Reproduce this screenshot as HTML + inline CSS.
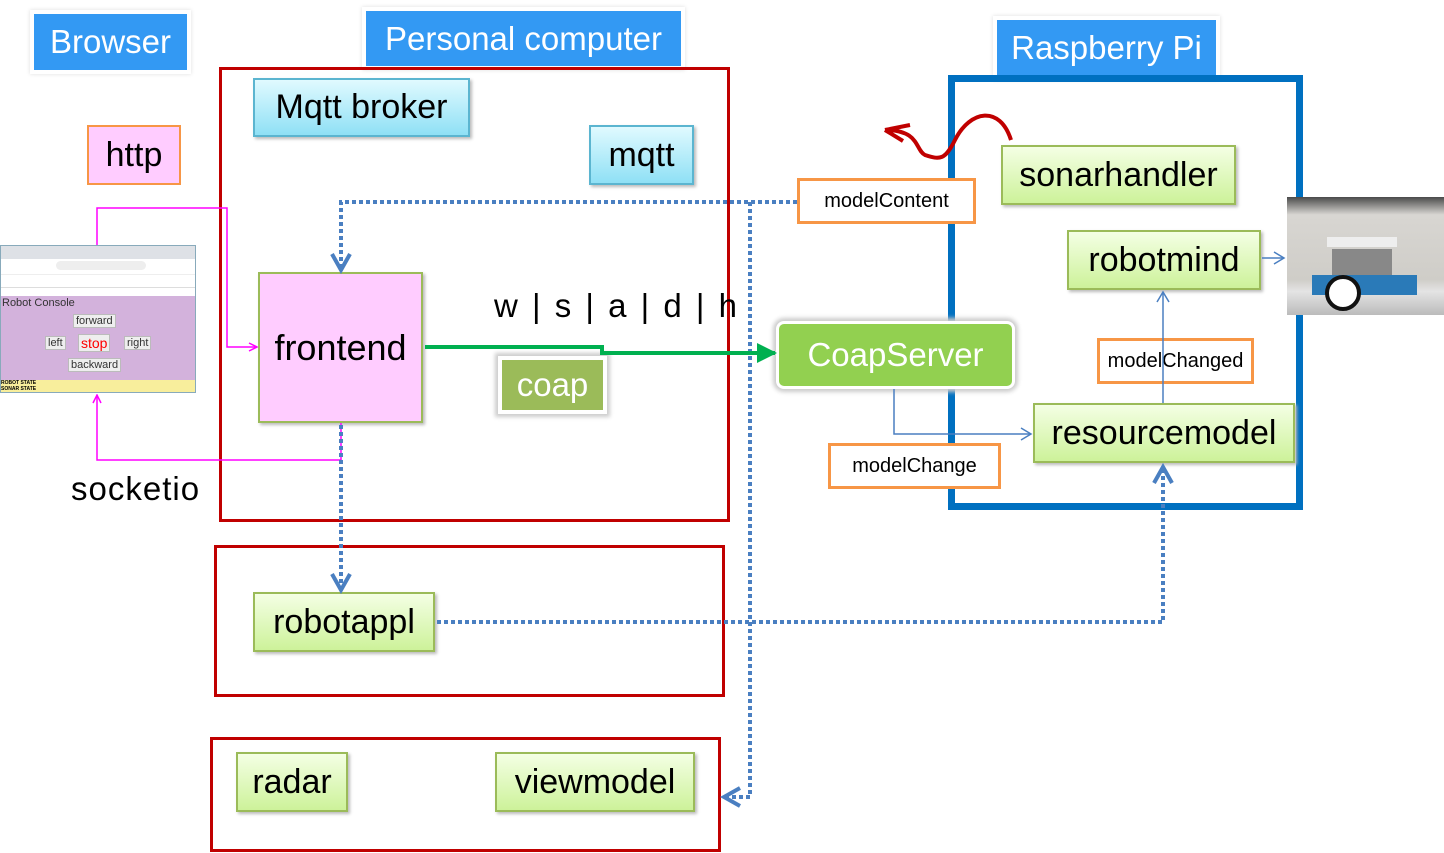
<!DOCTYPE html>
<html><head><meta charset="utf-8"><style>
body{margin:0;width:1444px;height:853px;background:#fff;position:relative;overflow:hidden;font-family:"Liberation Sans","DejaVu Sans",sans-serif}
.b{position:absolute;box-sizing:border-box;display:flex;align-items:center;justify-content:center;white-space:nowrap}
.lbl{background:#3399f3;color:#fff;font-size:33px;outline:4px solid #fff;box-shadow:0 0 4px 4px #ddd}
.g{background:linear-gradient(#f4ffe4,#cdf29a);border:2px solid #9bbb59;font-size:34px;color:#000;box-shadow:2px 2px 3px #bbb}
.c{background:linear-gradient(#e0faff,#8fe0f5);border:2px solid #5bb5d0;font-size:34px;box-shadow:2px 2px 3px #bbb}
.o{background:#fff;border:3px solid #f79646;font-size:20px}
.r{position:absolute;box-sizing:border-box;border:3px solid #c00000}
</style></head><body>
<div class="b lbl" style="left:34px;top:14px;width:153px;height:56px">Browser</div>
<div class="b lbl" style="left:366px;top:11px;width:315px;height:55px">Personal computer</div>
<div class="b lbl" style="left:997px;top:20px;width:219px;height:56px">Raspberry Pi</div>
<div class="r" style="left:219px;top:67px;width:511px;height:455px"></div>
<div class="r" style="left:214px;top:545px;width:511px;height:152px"></div>
<div class="r" style="left:210px;top:737px;width:511px;height:115px"></div>
<div style="position:absolute;left:948px;top:75px;width:355px;height:435px;box-sizing:border-box;border:7px solid #0070c0"></div>
<div class="b c" style="left:253px;top:78px;width:217px;height:59px">Mqtt broker</div>
<div class="b c" style="left:589px;top:125px;width:105px;height:60px">mqtt</div>
<div class="b" style="left:87px;top:125px;width:94px;height:60px;background:#ffccff;border:2px solid #f79646;font-size:34px">http</div>
<div class="b" style="left:258px;top:272px;width:165px;height:151px;background:#ffccff;border:2px solid #9bbb59;font-size:36px;box-shadow:2px 2px 3px #bbb">frontend</div>
<div class="b" style="left:498px;top:356px;width:109px;height:58px;background:#9bbb59;color:#fff;font-size:33px;border:4px solid #fff;box-shadow:0 0 4px 3px #ccc">coap</div>
<div class="b" style="left:776px;top:321px;width:239px;height:68px;background:#92d050;color:#fff;font-size:33px;border:3px solid #fff;border-radius:8px;box-shadow:0 0 4px 3px #ccc">CoapServer</div>
<div class="b g" style="left:1001px;top:145px;width:235px;height:60px">sonarhandler</div>
<div class="b g" style="left:1067px;top:230px;width:194px;height:60px">robotmind</div>
<div class="b g" style="left:1033px;top:403px;width:262px;height:60px">resourcemodel</div>
<div class="b g" style="left:253px;top:592px;width:182px;height:60px">robotappl</div>
<div class="b g" style="left:236px;top:752px;width:112px;height:60px">radar</div>
<div class="b g" style="left:495px;top:752px;width:200px;height:60px">viewmodel</div>
<div class="b o" style="left:1097px;top:338px;width:157px;height:46px">modelChanged</div>
<div class="b o" style="left:828px;top:443px;width:173px;height:46px">modelChange</div>
<div class="b o" style="left:797px;top:178px;width:179px;height:46px">modelContent</div>
<div style="position:absolute;left:494px;top:287px;font-size:33px;letter-spacing:2.5px">w | s | a | d | h</div>
<div style="position:absolute;left:71px;top:470px;font-size:33px;letter-spacing:1px">socketio</div>
<!-- browser screenshot -->
<div style="position:absolute;left:0;top:245px;width:196px;height:148px;border:1px solid #8ab;box-sizing:border-box;background:#fff;font-size:11px;overflow:hidden">
<div style="height:13px;background:#dee1e6"></div>
<div style="height:13px;background:#fff;border-bottom:1px solid #eee"><div style="margin:2px 0 0 55px;width:90px;height:9px;background:#eee;border-radius:5px"></div></div>
<div style="height:12px;background:#fff;border-bottom:1px solid #ddd"></div>
<div style="position:absolute;top:50px;left:0;width:196px;height:84px;background:#d3b2dc;color:#333">
<div style="position:absolute;left:1px;top:1px">Robot Console</div>
<div style="position:absolute;left:72px;top:18px;background:#eee;border:1px solid #bbb;padding:0 2px">forward</div>
<div style="position:absolute;left:44px;top:40px;background:#eee;border:1px solid #bbb;padding:0 2px">left</div>
<div style="position:absolute;left:77px;top:38px;background:#eee;border:1px solid #bbb;padding:0 2px;color:red;font-size:14px">stop</div>
<div style="position:absolute;left:123px;top:40px;background:#eee;border:1px solid #bbb;padding:0 2px">right</div>
<div style="position:absolute;left:67px;top:62px;background:#eee;border:1px solid #bbb;padding:0 2px">backward</div>
</div>
<div style="position:absolute;top:134px;left:0;width:196px;height:14px;background:#f8ee9c;font-size:5px;font-weight:bold">ROBOT STATE<br>SONAR STATE</div>
</div>
<!-- robot photo -->
<div style="position:absolute;left:1287px;top:197px;width:157px;height:118px;background:linear-gradient(#4a4a4a 0,#d8d6d2 15%,#cfcdc8 70%,#e4e4e4 80%,#bbb 100%);overflow:hidden">
<div style="position:absolute;left:40px;top:40px;width:70px;height:10px;background:#eee"></div>
<div style="position:absolute;left:45px;top:52px;width:60px;height:30px;background:#888"></div>
<div style="position:absolute;left:25px;top:78px;width:105px;height:20px;background:#2a7ab8"></div>
<div style="position:absolute;left:38px;top:78px;width:36px;height:36px;border-radius:50%;background:#fff;border:4px solid #111;box-sizing:border-box"></div>
</div>
<svg width="1444" height="853" style="position:absolute;left:0;top:0">
<defs>
<marker id="m" markerWidth="10" markerHeight="10" refX="9" refY="5" orient="auto" markerUnits="userSpaceOnUse"><path d="M1 1L9 5L1 9" fill="none" stroke="#ff00ff" stroke-width="1.5"/></marker>
<marker id="bl" markerWidth="24" markerHeight="24" refX="20" refY="12" orient="auto" markerUnits="userSpaceOnUse"><path d="M4 3L20 12L4 21" fill="none" stroke="#4a7fc1" stroke-width="4"/></marker>
<marker id="tb" markerWidth="14" markerHeight="14" refX="12" refY="7" orient="auto" markerUnits="userSpaceOnUse"><path d="M2 1L12 7L2 13" fill="none" stroke="#4a7fc1" stroke-width="1.5"/></marker>
<marker id="gr" markerWidth="24" markerHeight="24" refX="20" refY="12" orient="auto" markerUnits="userSpaceOnUse"><path d="M2 2L22 12L2 22Z" fill="#00b050"/></marker>
</defs>
<g fill="none" stroke="#ff00ff" stroke-width="1.5">
<path d="M97 245V208H227V347H257" marker-end="url(#m)"/>
<path d="M341 423V460H97V395" marker-end="url(#m)"/>
</g>
<g fill="none" stroke="#4a7fc1" stroke-width="4" stroke-dasharray="4 3">
<path d="M797 202H341V270" marker-end="url(#bl)"/>
<path d="M750 202V797H724" marker-end="url(#bl)"/>
<path d="M341 425V590" marker-end="url(#bl)"/>
<path d="M437 622H1163V467" marker-end="url(#bl)"/>
</g>
<path d="M425 347H602V353H775" fill="none" stroke="#00b050" stroke-width="4" marker-end="url(#gr)"/>
<g fill="none" stroke="#4a7fc1" stroke-width="1.5">
<path d="M894 389V434H1031" marker-end="url(#tb)"/>
<path d="M1163 403V292" marker-end="url(#tb)"/>
<path d="M1262 258H1284" marker-end="url(#tb)"/>
</g>
<path d="M1011 140C1000 105 970 110 955 140C945 160 940 160 925 155C915 150 920 130 885 130M885 130L910 125M885 130L903 141" fill="none" stroke="#c00000" stroke-width="4"/>
</svg>
</body></html>
